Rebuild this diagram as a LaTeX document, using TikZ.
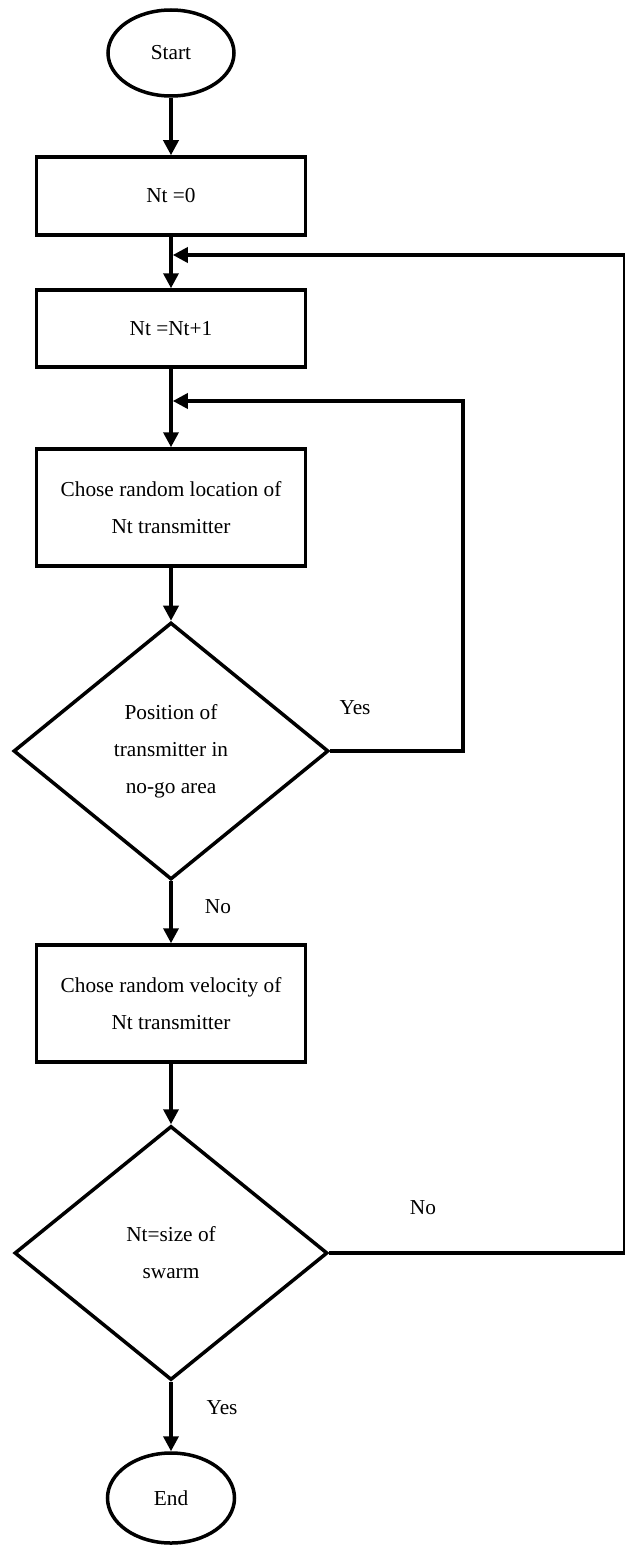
\documentclass[tikz,border=0pt]{standalone}
\usepackage{fontspec}
\setmainfont{Liberation Serif}
\usetikzlibrary{shapes.geometric,arrows.meta}
\begin{document}
\begin{tikzpicture}[x=1pt,y=-1pt,
  every node/.style={font=\fontsize{21.3}{37}\selectfont},
  flow/.style={line width=3.5pt},
  arr/.style={flow,-{Triangle[length=15pt,width=15pt]}},
  terminal/.style={draw,ellipse,line width=3.5pt,inner sep=0pt},
  procbox/.style={draw,rectangle,line width=3.5pt,minimum width=269pt,align=center,inner sep=0pt},
  decision/.style={draw,diamond,line width=3.5pt,align=center,inner sep=0pt},
  lbl/.style={inner sep=0pt}]
\useasboundingbox (0,0) rectangle (624,1546);

% main column of steps
\node[terminal,minimum width=126pt,minimum height=86pt] (start) at (171,53) {Start};
\node[procbox,minimum height=78pt] (n0) at (171,196) {Nt =0};
\node[procbox,minimum height=77pt] (n1) at (171,328.5) {Nt =Nt+1};
\node[procbox,minimum height=117pt] (loc) at (171,507.5) {Chose random location of\\Nt transmitter};
\node[decision,minimum width=315pt,minimum height=257pt] (pos) at (171,751) {Position of\\transmitter in\\no-go area};
\node[procbox,minimum height=117pt] (vel) at (171,1003.5) {Chose random velocity of\\Nt transmitter};
\node[decision,minimum width=313pt,minimum height=254pt] (size) at (171,1253) {Nt=size of\\swarm};
\node[terminal,minimum width=127pt,minimum height=90pt] (stop) at (171,1498) {End};

% junctions and corners of the loops
\coordinate (j1) at (172.8,255);
\coordinate (j2) at (172.8,401);
\coordinate (r1) at (463,751);
\coordinate (r2) at (624.5,1253);

% straight flow
\draw[arr] (start) -- (n0);
\draw[arr] (n0) -- (n1);
\draw[arr] (n1) -- (loc);
\draw[arr] (loc) -- (pos);
\draw[arr] (pos) -- (vel);
\draw[arr] (vel) -- (size);
\draw[arr] (size) -- (stop);

% loops back
\draw[arr] (pos.east) -- (r1) |- (j2);
\draw[arr] (size.east) -- (r2) |- (j1);

% branch labels
\node[lbl] (yes1) at (355,708) {Yes};
\node[lbl] (no1) at (218,907) {No};
\node[lbl] (no2) at (423,1208) {No};
\node[lbl] (yes2) at (222,1408) {Yes};
\end{tikzpicture}
\end{document}
